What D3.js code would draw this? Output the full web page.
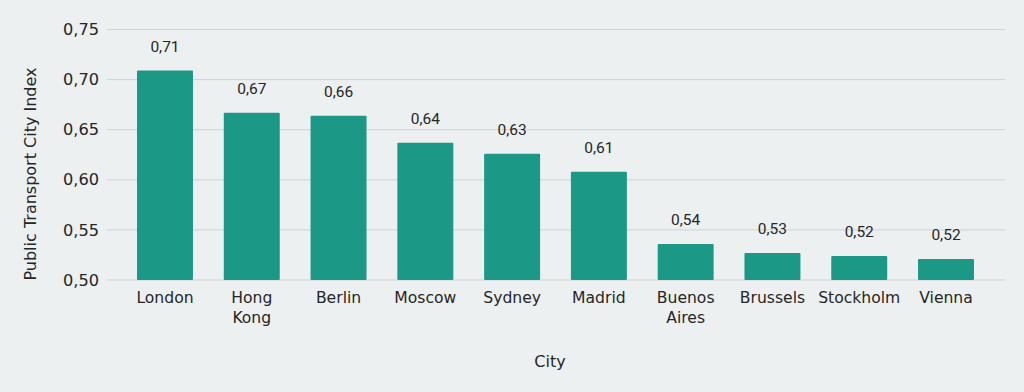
<!DOCTYPE html>
<html>
<head>
<meta charset="utf-8">
<script src="https://cdn.jsdelivr.net/npm/d3@7"></script>
<style>
  body { margin: 0; background: #edf0f1; }
  svg { display: block; }
</style>
</head>
<body>
<div class="grafico"></div>
<script>
// datos
const cities = ["London", "Hong Kong", "Berlin", "Moscow", "Sydney", "Madrid", "Buenos Aires", "Brussels", "Stockholm", "Vienna"];
const indexValues = [0.709, 0.667, 0.664, 0.637, 0.626, 0.608, 0.536, 0.527, 0.524, 0.521];
const yTicks = [0.50, 0.55, 0.60, 0.65, 0.70, 0.75];

const width = 1024, height = 392;

const svg = d3.select(".grafico")
  .append("svg")
  .attr("width", width)
  .attr("height", height);

svg.append("rect").attr("width", width).attr("height", height).attr("fill", "#edf0f1");

const xScale = d3.scaleBand()
  .domain(cities)
  .range([121.6, 989.4])
  .paddingInner(0.355)
  .paddingOuter(0.1775);

const yScale = d3.scaleLinear()
  .domain([0.5, 0.75])
  .range([280, 29.5]);

const fmt = d => d3.format(".2f")(d).replace(".", ",");

// grid
svg.append("g")
  .selectAll("line")
  .data(yTicks)
  .join("line")
  .attr("x1", 107)
  .attr("x2", 1005)
  .attr("y1", d => yScale(d))
  .attr("y2", d => yScale(d))
  .attr("stroke", "#cfd3d5")
  .attr("stroke-width", 1);

// eje Y
const yAxis = svg.append("g")
  .attr("transform", "translate(107,0)")
  .call(d3.axisLeft(yScale).tickValues(yTicks).tickFormat(fmt).tickSize(0).tickPadding(8));
yAxis.select(".domain").remove();
yAxis.selectAll("text")
  .attr("font-family", "DejaVu Sans")
  .attr("font-size", 16.2)
  .attr("fill", "#262626");

// barras
svg.append("g")
  .selectAll("rect")
  .data(indexValues)
  .join("rect")
  .attr("x", (d, i) => xScale(cities[i]))
  .attr("y", d => yScale(d))
  .attr("width", xScale.bandwidth())
  .attr("height", d => yScale(0.5) - yScale(d))
  .attr("rx", 1)
  .attr("fill", "#1b9886");

// etiquetas
svg.append("g")
  .selectAll("text")
  .data(indexValues)
  .join("text")
  .attr("x", (d, i) => xScale(cities[i]) + xScale.bandwidth() / 2)
  .attr("y", d => yScale(d) - 19)
  .attr("text-anchor", "middle")
  .attr("font-family", "Roboto")
  .attr("font-size", 15.5)
  .attr("fill", "#262626")
  .text(fmt);

// eje X
const xAxis = svg.append("g")
  .attr("transform", "translate(0,280)")
  .call(d3.axisBottom(xScale).tickSize(0).tickPadding(12));
xAxis.select(".domain").remove();
xAxis.selectAll("text")
  .attr("font-family", "DejaVu Sans")
  .attr("font-size", 15.6)
  .attr("fill", "#262626")
  .each(function(d) {
    const words = d.split(" ");
    const t = d3.select(this);
    if (words.length > 1) {
      t.text(null);
      words.forEach((w, i) => {
        t.append("tspan").attr("x", 0).attr("dy", i === 0 ? "0.71em" : "1.3em").text(w);
      });
      t.attr("dy", null);
    }
  });

// titulos
svg.append("text")
  .attr("x", 550)
  .attr("y", 367)
  .attr("text-anchor", "middle")
  .attr("font-family", "DejaVu Sans")
  .attr("font-size", 16)
  .attr("fill", "#262626")
  .text("City");

svg.append("text")
  .attr("transform", "translate(36,174) rotate(-90)")
  .attr("text-anchor", "middle")
  .attr("font-family", "DejaVu Sans")
  .attr("font-size", 16)
  .attr("fill", "#262626")
  .text("Public Transport City Index");
</script>
</body>
</html>
